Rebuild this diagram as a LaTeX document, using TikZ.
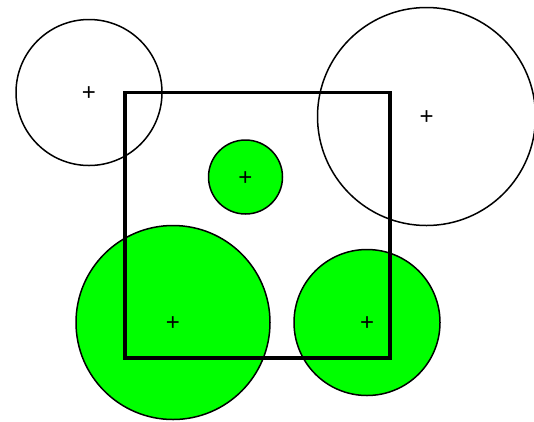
\documentclass[tikz,border=0pt]{standalone}
\usepackage{fontspec}
\setmainfont{Liberation Sans}

\begin{document}
\begin{tikzpicture}[x=1pt,y=-1pt]
\definecolor{fillColor}{RGB}{0,255,0}
\definecolor{drawColor}{RGB}{0,0,0}
\tikzset{disc/.style={circle,draw=drawColor,line width=1.5pt,inner sep=0pt,outer sep=0pt,
  font=\fontsize{24}{24}\selectfont}}
\newcommand{\centremark}{\raisebox{-1.5pt}[\height][0pt]{+}}
\useasboundingbox (0,0) rectangle (534,421);

% open circles
\node[disc,fill=white,minimum size=146pt] (topleft) at (89,92.5) {\centremark};
\node[disc,fill=white,minimum size=218pt] (topright) at (426.5,116.5) {\centremark};

% green circles
\node[disc,fill=fillColor,minimum size=74pt] (small) at (245.5,177) {\centremark};
\node[disc,fill=fillColor,minimum size=194pt] (bigleft) at (173,322.5) {\centremark};
\node[disc,fill=fillColor,minimum size=146pt] (right) at (367,322.5) {\centremark};

% the square on top
\path[draw=drawColor,line width=3.5pt] (125,92.5) rectangle (390,358);
\end{tikzpicture}
\end{document}
